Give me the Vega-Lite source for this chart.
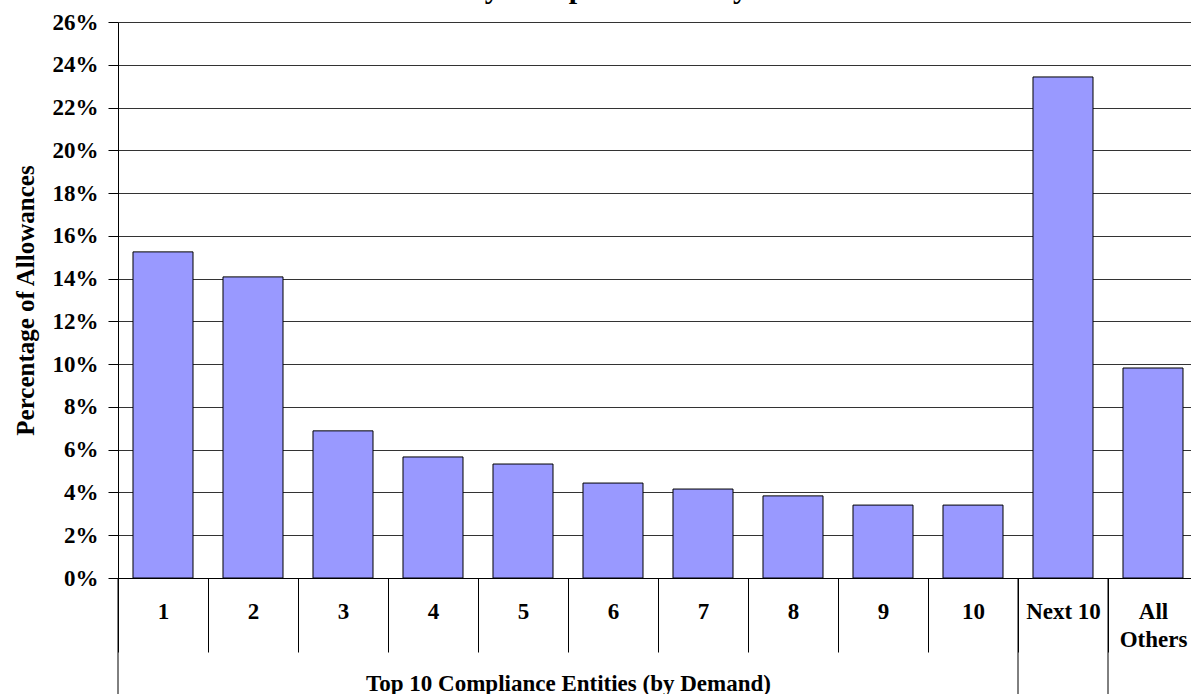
{
  "$schema": "https://vega.github.io/schema/vega-lite/v6.json",
  "width": 1080,
  "height": 556,
  "autosize": {"type": "none"},
  "padding": {"left": 118, "top": 22, "right": 0, "bottom": 120},
  "background": "white",
  "title": {
    "text": "by Compliance Entity",
    "font": "Liberation Serif",
    "fontWeight": "bold",
    "fontSize": 30,
    "color": "black",
    "anchor": "middle",
    "baseline": "alphabetic",
    "offset": -17,
    "dx": -50
  },
  "config": {
    "view": {"stroke": null},
    "font": "Liberation Serif"
  },
  "datasets": {
    "bars": [
      {"entity": "1", "share": 0.1525},
      {"entity": "2", "share": 0.1408},
      {"entity": "3", "share": 0.0688},
      {"entity": "4", "share": 0.0566},
      {"entity": "5", "share": 0.0533},
      {"entity": "6", "share": 0.0444},
      {"entity": "7", "share": 0.0416},
      {"entity": "8", "share": 0.0384},
      {"entity": "9", "share": 0.0341},
      {"entity": "10", "share": 0.0341},
      {"entity": "Next 10", "share": 0.2343},
      {"entity": "All Others", "share": 0.0982}
    ],
    "groups": [
      {"entity": "1"},
      {"entity": "Next 10"},
      {"entity": "All Others"}
    ]
  },
  "layer": [
    {
      "data": {"name": "bars"},
      "mark": {"type": "bar", "fill": "#9999FF", "stroke": "black", "strokeWidth": 1, "width": {"band": 0.6667}},
      "encoding": {
        "x": {
          "field": "entity",
          "type": "nominal",
          "sort": null,
          "scale": {
            "domain": ["1", "2", "3", "4", "5", "6", "7", "8", "9", "10", "Next 10", "All Others"],
            "paddingInner": 0,
            "paddingOuter": 0
          },
          "axis": {
            "title": "Top 10 Compliance Entities (by Demand)",
            "titleFont": "Liberation Serif",
            "titleFontWeight": "bold",
            "titleFontSize": 23,
            "titleColor": "black",
            "titleX": 450,
            "titleY": 112,
            "titleAlign": "center",
            "titleBaseline": "alphabetic",
            "titleAnchor": null,
            "labelAngle": 0,
            "labelFont": "Liberation Serif",
            "labelFontWeight": "bold",
            "labelFontSize": 23,
            "labelColor": "black",
            "labelBaseline": "top",
            "labelPadding": -52,
            "labelLineHeight": 28,
            "labelExpr": "datum.value == 'All Others' ? ['All', 'Others'] : datum.value",
            "tickBand": "extent",
            "tickSize": 74,
            "tickColor": "black",
            "tickWidth": 1,
            "domainColor": "black",
            "domainWidth": 1,
            "grid": false
          }
        },
        "y": {
          "field": "share",
          "type": "quantitative",
          "scale": {"domain": [0, 0.26], "nice": false},
          "axis": {
            "title": "Percentage of Allowances",
            "titleFont": "Liberation Serif",
            "titleFontWeight": "bold",
            "titleFontSize": 25,
            "titleColor": "black",
            "titlePadding": 14,
            "values": [0, 0.02, 0.04, 0.06, 0.08, 0.1, 0.12, 0.14, 0.16, 0.18, 0.2, 0.22, 0.24, 0.26],
            "format": ".0%",
            "labelFont": "Liberation Serif",
            "labelFontWeight": "bold",
            "labelFontSize": 23,
            "labelColor": "black",
            "labelPadding": 10,
            "tickSize": 10,
            "tickColor": "black",
            "domainColor": "black",
            "grid": true,
            "gridColor": "#333333",
            "gridWidth": 1
          }
        }
      }
    },
    {
      "data": {"name": "groups"},
      "mark": {"type": "rule", "color": "black", "strokeWidth": 1, "clip": false},
      "encoding": {
        "x": {"field": "entity", "type": "nominal", "sort": null, "bandPosition": 0},
        "y": {"datum": 0},
        "y2": {"datum": -0.06}
      }
    }
  ]
}
